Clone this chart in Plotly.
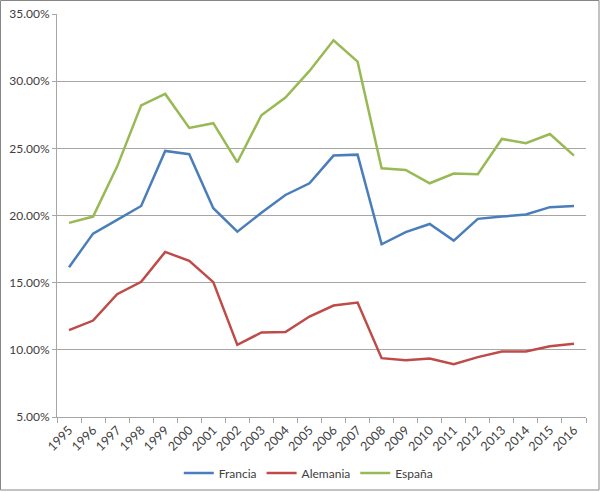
import plotly.graph_objects as go

years = [str(y) for y in range(1995, 2017)]
francia = [16.15, 18.65, 19.67, 20.71, 24.81, 24.56, 20.54, 18.80, 20.20, 21.53, 22.40,
           24.46, 24.53, 17.86, 18.76, 19.37, 18.13, 19.75, 19.92, 20.07, 20.62, 20.71]
alemania = [11.47, 12.18, 14.14, 15.06, 17.29, 16.62, 15.04, 10.37, 11.29, 11.32, 12.48,
            13.30, 13.52, 9.38, 9.23, 9.35, 8.93, 9.46, 9.87, 9.87, 10.27, 10.45]
espana = [19.45, 19.92, 23.64, 28.20, 29.05, 26.52, 26.87, 23.96, 27.46, 28.78, 30.76,
          33.04, 31.45, 23.52, 23.39, 22.40, 23.12, 23.07, 25.70, 25.38, 26.07, 24.46]
y_ticks = [5, 10, 15, 20, 25, 30, 35]
y_labels = ["5.00%", "10.00%", "15.00%", "20.00%", "25.00%", "30.00%", "35.00%"]

series = [("Francia", francia, "#4A7EBB"),
          ("Alemania", alemania, "#BE4B48"),
          ("España", espana, "#98B954")]

fig = go.Figure()
for name, vals, col in series:
    fig.add_trace(go.Scatter(x=years, y=vals, name=name, mode="lines",
                             line=dict(color=col, width=2.5)))

font = dict(family="Lato, Open Sans, sans-serif", size=12, color="#404040")
xfont = dict(family="Lato, Open Sans, sans-serif", size=12.5, color="#404040")
fig.update_layout(
    width=600, height=492,
    margin=dict(l=57, r=14, t=14, b=75, autoexpand=False),
    paper_bgcolor="white", plot_bgcolor="white",
    font=font,
    showlegend=True,
    legend=dict(orientation="h", x=0.475, xanchor="center", y=-0.139, yanchor="middle",
                font=font, itemwidth=30, tracegroupgap=0),
    xaxis=dict(type="category", range=[-0.5, 21.5], tickangle=-45, automargin=False,
               showline=True, linecolor="#A6A6A6", linewidth=1,
               ticks="outside", ticklen=5, tickcolor="#A6A6A6", tickson="boundaries",
               showgrid=False, tickfont=xfont),
    yaxis=dict(range=[5, 35], tickvals=y_ticks, ticktext=y_labels, automargin=False,
               showline=True, linecolor="#A6A6A6", linewidth=1,
               ticks="outside", ticklen=4, tickcolor="#A6A6A6",
               showgrid=True, gridcolor="#A6A6A6", gridwidth=1,
               zeroline=False, tickfont=font),
)

# outer chart border
pw, ph = 529, 403
fig.add_shape(type="rect", xref="paper", yref="paper",
              x0=(0.5 - 57) / pw, x1=(599 - 57) / pw,
              y0=(417 - 490) / ph, y1=(417 - 0.5) / ph,
              line=dict(color="#868686", width=1), fillcolor="rgba(0,0,0,0)", layer="below")

fig.write_html("out.html", config={"displayModeBar": False},
               post_script="document.body.style.margin='0';")
